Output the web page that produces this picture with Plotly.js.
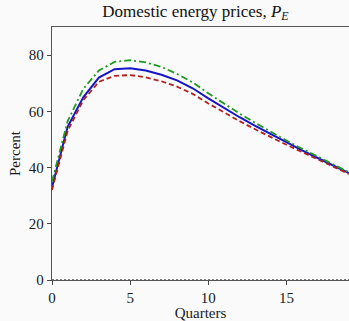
<!DOCTYPE html>
<html>
<head>
<meta charset="utf-8">
<script src="https://cdn.plot.ly/plotly-3.0.1.min.js"></script>
<style>html,body{margin:0;padding:0;background:#fafafa;}</style>
</head>
<body>
<div id="chart" style="width:349px;height:321px;"></div>
<script>
var quarters = [0,1,2,3,4,5,6,7,8,9,10,11,12,13,14,15,16,17,18,19];
var blueSeries  = [33.0,54.5,65.0,72.0,75.0,75.3,74.5,73.0,71.0,68.2,64.6,61.2,57.9,54.8,51.8,48.9,46.1,43.4,40.7,38.0];
var greenSeries = [35.0,56.5,68.0,74.5,77.6,78.2,77.4,75.8,73.3,70.3,66.4,62.7,59.2,55.9,52.7,49.6,46.7,43.9,41.1,38.3];
var redSeries   = [32.0,53.0,64.0,70.5,72.6,72.9,72.1,70.7,68.8,66.2,62.8,59.6,56.5,53.6,50.8,48.1,45.5,42.9,40.3,37.7];
var yTicks = [0,20,40,60,80];
var xTicks = [0,5,10,15];

var serif = "Liberation Serif, Times New Roman, serif";
var traces = [
  {x: quarters, y: blueSeries, mode: 'lines', line: {color: '#1515c8', width: 2, dash: 'solid'}, hoverinfo: 'skip'},
  {x: quarters, y: redSeries, mode: 'lines', line: {color: '#b22222', width: 1.8, dash: '5px,3px'}, hoverinfo: 'skip'},
  {x: quarters, y: greenSeries, mode: 'lines', line: {color: '#1f9a1f', width: 1.8, dash: '7px,3px,2px,3px'}, hoverinfo: 'skip'}
];
var layout = {
  width: 349, height: 321,
  margin: {l: 52, r: 0, t: 27, b: 41},
  paper_bgcolor: '#fafafa', plot_bgcolor: '#fafafa',
  showlegend: false,
  font: {family: serif, size: 15, color: '#1a1a1a'},
  title: {text: 'Domestic energy prices, <i>P<sub>E</sub></i>', x: 0.56, xanchor: 'center', y: 0.985, yanchor: 'top', font: {family: serif, size: 17, color: '#111'}},
  xaxis: {
    range: [0, 19], tickvals: xTicks, ticktext: xTicks.map(String), ticks: 'outside', ticklen: 4, tickcolor: '#444',
    tickfont: {family: serif, size: 15, color: '#1a1a1a'},
    showline: true, linecolor: '#555', linewidth: 1.2, mirror: true, showgrid: false, zeroline: false,
    title: {text: 'Quarters', font: {family: serif, size: 15, color: '#1a1a1a'}, standoff: 0}
  },
  yaxis: {
    range: [0, 90], tickvals: yTicks, ticktext: yTicks.map(String), ticks: 'outside', ticklen: 4, tickcolor: '#444',
    tickfont: {family: serif, size: 15, color: '#1a1a1a'},
    showline: true, linecolor: '#555', linewidth: 1.2, showgrid: false, zeroline: false,
    title: {text: 'Percent', font: {family: serif, size: 15, color: '#1a1a1a'}, standoff: 4}
  },
  shapes: [{type: 'line', xref: 'paper', x0: 0, x1: 1, yref: 'y', y0: 0, y1: 0, line: {color: '#000', width: 1, dash: '2px,2px'}}]
};
Plotly.newPlot('chart', traces, layout, {staticPlot: true, displayModeBar: false});
</script>
</body>
</html>
